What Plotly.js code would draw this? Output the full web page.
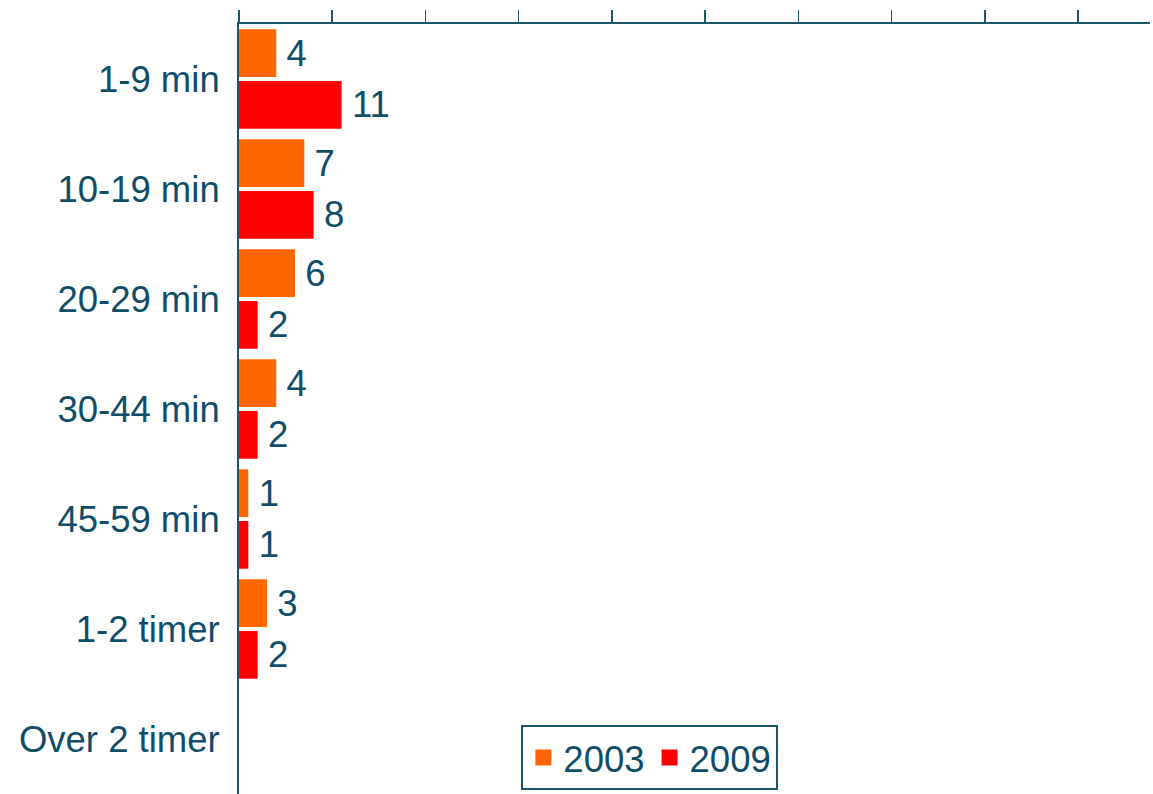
<!DOCTYPE html>
<html>
<head>
<meta charset="utf-8">
<script src="https://cdn.plot.ly/plotly-3.0.1.min.js"></script>
<style>html,body{margin:0;padding:0;background:#fff;}#chart{width:1153px;height:794px;}</style>
</head>
<body>
<div id="chart"></div>
<script>
const categories = ["1-9 min", "10-19 min", "20-29 min", "30-44 min", "45-59 min", "1-2 timer", "Over 2 timer"];
const values2003 = [4, 7, 6, 4, 1, 3, null];
const values2009 = [11, 8, 2, 2, 1, 2, null];
const seriesNames = ["2003", "2009"];
const seriesColors = ["#ff6600", "#ff0000"];
const textColor = "#0f4d68";
const lineColor = "#1a5670";
const fontFam = "Liberation Sans, Arial, Helvetica, sans-serif";
const fs = 36.5;

function barTrace(i, vals){
  return {type: "bar", orientation: "h", name: seriesNames[i], y: categories, x: vals,
    marker: {color: seriesColors[i]}, texttemplate: "\u2009%{x}", textposition: "outside",
    textfont: {color: textColor, size: fs, family: fontFam}, cliponaxis: false,
    showlegend: false, legendgroup: seriesNames[i], hoverinfo: "x+y"};
}
function legendTrace(i){
  return {type: "scatter", mode: "markers", name: seriesNames[i], x: [null], y: [null],
    marker: {symbol: "square", size: 24, color: seriesColors[i]}, legendgroup: seriesNames[i],
    showlegend: true, hoverinfo: "skip"};
}

const traces = [barTrace(0, values2003), barTrace(1, values2009), legendTrace(0), legendTrace(1)];

const layout = {
  width: 1153, height: 794,
  margin: {l: 239, r: 3, t: 24, b: 0, pad: 0},
  paper_bgcolor: "#fff", plot_bgcolor: "#fff",
  font: {family: fontFam, color: textColor, size: fs},
  barmode: "group", bargap: 0.06, bargroupgap: 0.077,
  showlegend: true,
  legend: {orientation: "h", x: 0.451, xanchor: "center", y: 0.005, yanchor: "bottom",
           bordercolor: lineColor, borderwidth: 2, bgcolor: "#fff", itemsizing: "trace",
           itemwidth: 30, font: {size: fs, color: textColor, family: fontFam}, traceorder: "normal"},
  xaxis: {side: "top", range: [0, 97.7], dtick: 10, tick0: 0, showticklabels: false,
          ticks: "outside", ticklen: 12, tickwidth: 1.5, tickcolor: lineColor,
          showline: true, linecolor: lineColor, linewidth: 2, showgrid: false, zeroline: false, fixedrange: true},
  yaxis: {type: "category", autorange: "reversed", showline: true, linecolor: lineColor, linewidth: 2,
          ticks: "", showgrid: false, zeroline: false, ticklabelstandoff: 10,
          tickfont: {size: fs, color: textColor, family: fontFam}, fixedrange: true}
};

Plotly.newPlot("chart", traces, layout, {displayModeBar: false, staticPlot: true});
</script>
</body>
</html>
